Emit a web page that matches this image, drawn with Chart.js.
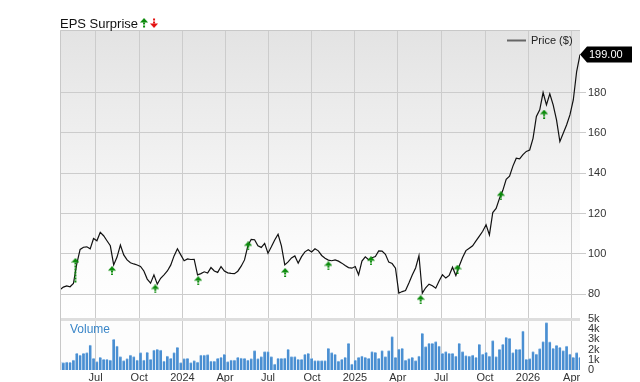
<!DOCTYPE html>
<html>
<head>
<meta charset="utf-8">
<script src="https://cdn.jsdelivr.net/npm/chart.js@4.4.1/dist/chart.umd.min.js"></script>
<style>
  html, body { margin: 0; padding: 0; background: #fff; }
  #wrap { width: 640px; height: 382px; position: relative; }
</style>
</head>
<body>
<div id="wrap"><canvas id="chart"></canvas></div>
<script>
// weekly closing price, mid-Apr 2023 .. mid-Apr 2026
const prices = [
  82.2, 83.5, 84.1, 83.7, 85.3, 95.0, 102.2, 103.3, 103.5, 102.5,
  107.6, 106.5, 110.7, 109.0, 106.5, 104.0, 94.5, 98.4, 104.4, 99.5,
  97.0, 95.6, 95.0, 94.5, 93.8, 91.5, 87.5, 85.5, 89.6, 85.0,
  87.9, 89.6, 91.5, 94.4, 99.0, 102.5, 99.5, 96.6, 97.5, 97.2,
  97.3, 89.6, 90.2, 91.1, 90.5, 93.2, 91.5, 90.8, 93.7, 91.5,
  90.6, 90.3, 90.2, 91.4, 93.9, 97.0, 104.0, 107.2, 107.0, 104.0,
  103.2, 105.2, 100.3, 103.5, 106.9, 109.7, 104.0, 94.5, 96.0, 98.0,
  99.0, 95.4, 98.6, 101.0, 102.0, 100.9, 102.5, 101.5, 99.2, 97.8,
  96.9, 96.6, 97.0, 96.4, 95.4, 94.2, 93.2, 92.9, 93.7, 89.6,
  96.4, 98.5, 97.1, 98.1, 98.7, 101.5, 101.4, 99.8, 95.9, 95.2,
  92.9, 80.5, 81.3, 81.8, 85.5, 89.5, 93.0, 99.1, 80.5, 83.2,
  85.0, 84.2, 83.0, 86.5, 89.6, 88.0, 89.3, 93.4, 89.3, 94.0,
  98.2, 101.6, 102.8, 104.0, 106.4, 108.8, 111.2, 114.4, 109.4, 120.5,
  122.5, 127.5, 131.5, 137.0, 138.5, 143.5, 147.4, 147.1, 149.2, 150.8,
  151.5, 157.3, 168.1, 171.4, 180.0, 173.9, 179.4, 173.9, 166.4, 155.7,
  159.8, 163.9, 168.9, 176.3, 190.4, 198.8
];

// weekly volume, thousands
const volumes = [
  0.82, 0.72, 0.78, 0.75, 0.98, 1.63, 1.47, 1.63, 1.7, 2.45,
  1.14, 0.82, 1.24, 1.05, 1.05, 0.98, 3.0, 2.35, 1.31, 0.92,
  1.11, 1.47, 1.31, 0.98, 1.7, 0.98, 1.73, 1.05, 1.96, 2.03,
  1.96, 0.88, 1.37, 1.14, 1.7, 2.22, 0.72, 1.11, 1.14, 0.72,
  0.92, 0.78, 1.47, 1.47, 1.5, 0.88, 0.88, 1.14, 1.24, 1.54,
  0.82, 0.98, 0.98, 1.24, 1.18, 1.14, 0.98, 1.11, 1.9, 1.11,
  1.31, 1.8, 1.8, 1.31, 0.59, 1.14, 1.14, 1.18, 2.03, 1.31,
  1.31, 1.05, 1.05, 1.54, 1.63, 1.14, 0.92, 0.92,
  0.92, 0.92, 2.12, 1.7, 1.54, 0.88, 1.05, 1.24, 2.61, 0.59,
  0.98, 1.24, 1.37, 1.24, 1.14, 1.8, 1.73, 1.14, 1.9, 1.31,
  1.9, 3.27, 1.24, 2.06, 2.12, 0.98, 1.11, 1.24, 0.92, 1.37,
  3.6, 2.29, 2.61, 2.61, 2.78, 2.35, 1.63, 1.8, 1.63, 1.63,
  1.37, 2.61, 1.8, 1.41, 1.37, 1.47, 1.24, 2.52, 1.57, 1.73,
  1.37, 2.88, 1.31, 2.03, 2.52, 3.2, 3.1, 1.7, 2.03, 2.03,
  3.82, 1.05, 1.11, 1.8, 1.57, 2.09, 2.78, 4.64, 2.75, 2.12,
  2.42, 2.22, 1.9, 2.35, 1.57, 1.24, 1.7, 1.24
];

// earnings surprises (all positive), week index and where the marker sits
const epsWeeks = [4.6, 15.5, 28.4, 41.2, 56.1, 67.1, 80.0, 92.7, 107.5, 118.5, 131.4, 144.3];
const epsLevels = [91.8, 91.7, 82.6, 86.7, 104.0, 90.8, 94.1, 96.6, 77.3, 92.4, 128.8, 169.3];

const tickWeeks = [10.6, 23.6, 36.5, 49.2, 62.0, 75.1, 87.9, 100.7, 113.6, 126.7, 139.5, 152.5];
const tickLabels = ['Jul', 'Oct', '2024', 'Apr', 'Jul', 'Oct', '2025', 'Apr', 'Jul', 'Oct', '2026', 'Apr'];
const priceTicks = [80, 100, 120, 140, 160, 180];
const volTicks = [0, 1, 2, 3, 4, 5];
const lastPrice = '199.00';

const FONT = '"Liberation Sans", Arial, sans-serif';
const GREEN = '#0a8a0a';
const RED = '#e31010';

// little arrow marker, tall ones get a dashed stem
function makeArrow(h, color, down) {
  const c = document.createElement('canvas');
  c.width = 8; c.height = h;
  const g = c.getContext('2d');
  g.fillStyle = color;
  if (down) { g.translate(0, h); g.scale(1, -1); }
  g.beginPath();
  g.moveTo(0, 4.5); g.lineTo(4, 0); g.lineTo(8, 4.5);
  g.closePath(); g.fill();
  for (let y = 4.5; y < h; y += 3) {
    g.fillRect(3, y, 2, Math.min(2, h - y));
  }
  return c;
}

const arrowSmall = makeArrow(9, GREEN, false);
const arrowTall = makeArrow(25, GREEN, false);
const arrowStyles = epsWeeks.map((w, i) => i === 0 ? arrowTall : arrowSmall);

const panelsPlugin = {
  id: 'panels',
  beforeDraw(chart) {
    const { ctx, chartArea: a } = chart;
    const yP = chart.scales.yP, yV = chart.scales.yV;
    ctx.save();
    ctx.fillStyle = '#fff';
    ctx.fillRect(0, 0, chart.width, chart.height);
    const grad = ctx.createLinearGradient(0, yP.top, 0, yP.bottom);
    grad.addColorStop(0, '#e3e3e3');
    grad.addColorStop(0.75, '#fbfbfb');
    grad.addColorStop(1, '#ffffff');
    ctx.fillStyle = grad;
    ctx.fillRect(a.left, yP.top, a.right - a.left, yP.bottom - yP.top);
    ctx.fillStyle = '#fdfdfd';
    ctx.fillRect(a.left, yV.top, a.right - a.left, yV.bottom - yV.top);
    ctx.restore();
  },
  beforeDatasetsDraw(chart) {
    const { ctx, chartArea: a } = chart;
    const yP = chart.scales.yP;
    ctx.save();
    ctx.fillStyle = '#dedede';
    ctx.fillRect(a.left, yP.bottom - 1, a.right - a.left, 3);
    ctx.restore();
  },
  afterDraw(chart) {
    const { ctx, chartArea: a } = chart;
    const yP = chart.scales.yP, yV = chart.scales.yV;
    ctx.save();
    // frame
    ctx.strokeStyle = '#c8c8c8';
    ctx.lineWidth = 1;
    ctx.beginPath();
    ctx.moveTo(a.left + 0.5, a.bottom);
    ctx.lineTo(a.left + 0.5, a.top + 0.5);
    ctx.lineTo(a.right, a.top + 0.5);
    ctx.stroke();

    // title with arrows
    ctx.fillStyle = '#111';
    ctx.font = '13px ' + FONT;
    ctx.textBaseline = 'alphabetic';
    ctx.textAlign = 'left';
    ctx.fillText('EPS Surprise', 60, 28);
    const tw = ctx.measureText('EPS Surprise').width;
    ctx.drawImage(makeArrow(10, GREEN, false), 60 + tw + 2, 18);
    ctx.drawImage(makeArrow(10, RED, true), 60 + tw + 12, 18);

    // legend
    ctx.strokeStyle = '#666';
    ctx.lineWidth = 2;
    ctx.beginPath();
    ctx.moveTo(507, 40.5); ctx.lineTo(526, 40.5);
    ctx.stroke();
    ctx.fillStyle = '#222';
    ctx.font = '11px ' + FONT;
    ctx.textBaseline = 'middle';
    ctx.fillText('Price ($)', 531, 41);

    // last price tag
    const ly = yP.getPixelForValue(prices[prices.length - 1]);
    ctx.fillStyle = '#000';
    ctx.beginPath();
    ctx.moveTo(580, ly);
    ctx.lineTo(587, ly - 8);
    ctx.lineTo(632, ly - 8);
    ctx.lineTo(632, ly + 8);
    ctx.lineTo(587, ly + 8);
    ctx.closePath();
    ctx.fill();
    ctx.fillStyle = '#fff';
    ctx.font = '11px ' + FONT;
    ctx.fillText(lastPrice, 589, ly + 0.5);

    // volume label
    ctx.fillStyle = '#3a86c8';
    ctx.font = '12px ' + FONT;
    ctx.fillText('Volume', 70, yV.top + 11);
    ctx.restore();
  }
};

new Chart(document.getElementById('chart'), {
  type: 'bar',
  data: {
    datasets: [
      {
        type: 'line',
        label: 'EPS',
        data: epsWeeks.map((w, i) => ({ x: w, y: epsLevels[i] })),
        yAxisID: 'yP',
        showLine: false,
        pointStyle: arrowStyles,
        pointRadius: 5,
        order: 0
      },
      {
        type: 'line',
        label: 'Price ($)',
        data: prices.map((p, i) => ({ x: i, y: p })),
        yAxisID: 'yP',
        borderColor: '#111',
        borderWidth: 1.2,
        pointRadius: 0,
        tension: 0,
        order: 1
      },
      {
        type: 'bar',
        label: 'Volume',
        data: volumes.map((v, i) => ({ x: i, y: v })),
        yAxisID: 'yV',
        backgroundColor: '#4a8fd2',
        borderColor: '#8dbbe6',
        borderWidth: { top: 1, left: 0, right: 0, bottom: 0 },
        barThickness: 2.7,
        grouped: false,
        order: 2
      }
    ]
  },
  options: {
    responsive: true,
    maintainAspectRatio: false,
    animation: false,
    events: [],
    layout: { padding: { left: 60, top: 30, right: 0, bottom: 0 } },
    plugins: {
      legend: { display: false },
      tooltip: { enabled: false }
    },
    scales: {
      x: {
        type: 'linear',
        offset: false,
        min: 0,
        max: prices.length - 1,
        afterBuildTicks: s => { s.ticks = tickWeeks.map(v => ({ value: v })); },
        afterFit: s => { s.height = 12; },
        ticks: {
          callback: (v, i) => tickLabels[i],
          autoSkip: false,
          maxRotation: 0,
          padding: 1,
          color: '#333',
          font: { family: FONT, size: 11 }
        },
        grid: { color: '#cccccc', drawTicks: false, offset: false },
        border: { display: false }
      },
      yP: {
        position: 'right',
        stack: 'panels',
        stackWeight: 289,
        min: 67.7,
        max: 211,
        afterBuildTicks: s => { s.ticks = priceTicks.map(v => ({ value: v })); },
        afterFit: s => { s.width = 60; },
        ticks: {
          autoSkip: false,
          padding: 2,
          color: '#333',
          font: { family: FONT, size: 11 }
        },
        grid: { color: '#cccccc', tickLength: 6 },
        border: { display: false }
      },
      yV: {
        position: 'right',
        stack: 'panels',
        stackWeight: 51,
        min: 0,
        max: 5,
        afterBuildTicks: s => { s.ticks = volTicks.map(v => ({ value: v })); },
        afterFit: s => { s.width = 60; },
        ticks: {
          autoSkip: false,
          padding: 2,
          color: '#333',
          font: { family: FONT, size: 11 },
          callback: v => v === 0 ? '0' : v + 'k'
        },
        grid: { display: false, tickLength: 6 },
        border: { display: false }
      }
    }
  },
  plugins: [panelsPlugin]
});
</script>
</body>
</html>
